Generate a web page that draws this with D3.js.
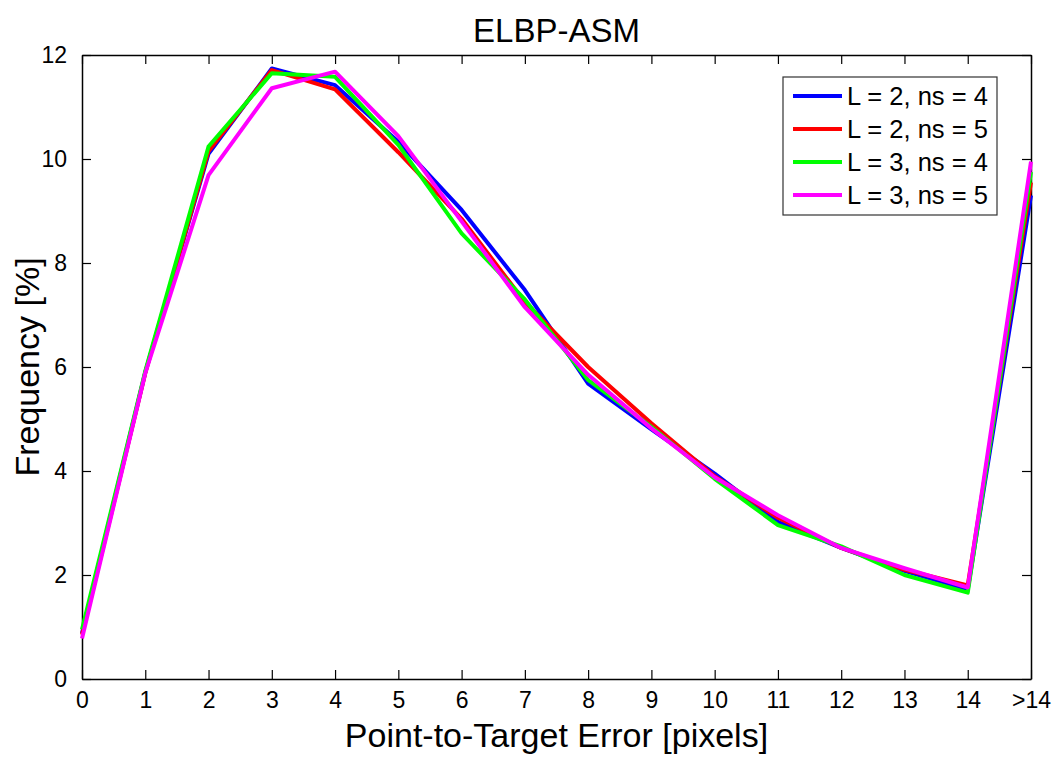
<!DOCTYPE html>
<html>
<head>
<meta charset="utf-8">
<script src="https://cdn.jsdelivr.net/npm/d3@7"></script>
<style>
  body { margin: 0; background: #fff; }
  text { font-family: "Liberation Sans", Arial, sans-serif; }
</style>
</head>
<body>
<div id="chart"></div>
<script>
// error bins on x, tick labels for them
let xLabels = ["0", "1", "2", "3", "4", "5", "6", "7", "8", "9", "10", "11", "12", "13", "14", ">14"]
let yTicks = [0, 2, 4, 6, 8, 10, 12]

// frequency [%] per bin, one array per setting
let seriesNames = ["L = 2, ns = 4", "L = 2, ns = 5", "L = 3, ns = 4", "L = 3, ns = 5"]
let seriesColors = ["#0000ff", "#ff0000", "#00ff00", "#ff00ff"]
let l2ns4 = [0.88, 5.9, 10.1, 11.74, 11.42, 10.33, 9.02, 7.48, 5.68, 4.8, 3.95, 3.02, 2.52, 2.08, 1.72, 9.3]
let l2ns5 = [0.85, 5.88, 10.15, 11.71, 11.34, 10.13, 8.85, 7.25, 6.0, 4.92, 3.9, 3.1, 2.52, 2.1, 1.8, 9.55]
let l3ns4 = [0.95, 5.92, 10.24, 11.65, 11.58, 10.27, 8.57, 7.3, 5.75, 4.85, 3.85, 2.96, 2.55, 2.0, 1.66, 9.75]
let l3ns5 = [0.78, 5.88, 9.69, 11.36, 11.68, 10.44, 8.8, 7.15, 5.85, 4.82, 3.88, 3.15, 2.52, 2.13, 1.76, 9.95]
let allSeries = [l2ns4, l2ns5, l3ns4, l3ns5]

let width = 1056
let height = 758
let margin = {top: 55, right: 25, bottom: 79, left: 82}

let svg = d3.select("#chart").append("svg")
    .attr("width", width)
    .attr("height", height)

let x = d3.scaleLinear()
    .domain([0, xLabels.length - 1])
    .range([margin.left, width - margin.right])

let y = d3.scaleLinear()
    .domain([0, 12])
    .range([height - margin.bottom, margin.top])

let tickLen = 9

// axes, ticks point inward like matlab
let xAxis = d3.axisBottom(x)
    .tickValues(d3.range(xLabels.length))
    .tickFormat(i => xLabels[i])
    .tickSizeInner(-tickLen)
    .tickSizeOuter(0)
    .tickPadding(13)

let yAxis = d3.axisLeft(y)
    .tickValues(yTicks)
    .tickSizeInner(-tickLen)
    .tickSizeOuter(0)
    .tickPadding(15)

svg.append("g")
    .attr("transform", `translate(0,${height - margin.bottom})`)
    .call(xAxis)

svg.append("g")
    .attr("transform", `translate(${margin.left},0)`)
    .call(yAxis)

// mirror ticks on top / right
svg.append("g")
    .attr("transform", `translate(0,${margin.top})`)
    .call(d3.axisTop(x).tickValues(d3.range(xLabels.length)).tickSizeInner(-tickLen).tickSizeOuter(0).tickFormat(""))

svg.append("g")
    .attr("transform", `translate(${width - margin.right},0)`)
    .call(d3.axisRight(y).tickValues(yTicks).tickSizeInner(-tickLen).tickSizeOuter(0).tickFormat(""))

svg.selectAll(".domain").attr("stroke", "#000").attr("stroke-width", 1.5)
svg.selectAll(".tick line").attr("stroke", "#000").attr("stroke-width", 1.2)
svg.selectAll(".tick text")
    .attr("fill", "#000")
    .attr("font-size", 23)
    .attr("font-family", "Liberation Sans, Arial, sans-serif")

// lines
let line = d3.line()
    .x((d, i) => x(i))
    .y(d => y(d))

svg.append("g")
    .selectAll("path")
    .data(allSeries)
    .join("path")
    .attr("d", line)
    .attr("fill", "none")
    .attr("stroke", (d, i) => seriesColors[i])
    .attr("stroke-width", 4)
    .attr("stroke-linejoin", "round")

// title + labels
svg.append("text")
    .attr("x", (x.range()[0] + x.range()[1]) / 2)
    .attr("y", 42)
    .attr("text-anchor", "middle")
    .attr("font-size", 33)
    .text("ELBP-ASM")

svg.append("text")
    .attr("x", (x.range()[0] + x.range()[1]) / 2)
    .attr("y", 747)
    .attr("text-anchor", "middle")
    .attr("font-size", 34)
    .text("Point-to-Target Error [pixels]")

svg.append("text")
    .attr("transform", `translate(39,${(y.range()[0] + y.range()[1]) / 2}) rotate(-90)`)
    .attr("text-anchor", "middle")
    .attr("font-size", 34)
    .text("Frequency [%]")

// legend
let legend = svg.append("g")
    .attr("transform", "translate(783,77)")

legend.append("rect")
    .attr("width", 214)
    .attr("height", 138)
    .attr("fill", "#fff")
    .attr("stroke", "#333")
    .attr("stroke-width", 1.2)

let items = legend.selectAll("g")
    .data(seriesNames)
    .join("g")
    .attr("transform", (d, i) => `translate(0,${19 + i * 33})`)

items.append("line")
    .attr("x1", 10)
    .attr("x2", 59)
    .attr("stroke", (d, i) => seriesColors[i])
    .attr("stroke-width", 4)

items.append("text")
    .attr("x", 64)
    .attr("dy", "0.36em")
    .attr("font-size", 25.5)
    .text(d => d)
</script>
</body>
</html>
